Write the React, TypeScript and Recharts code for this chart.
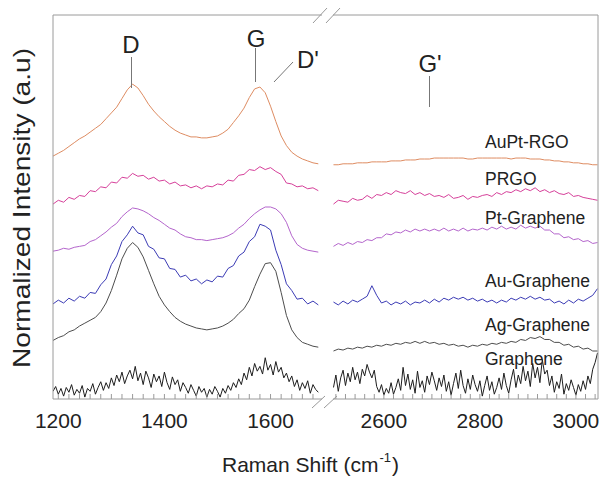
import { LineChart, Line, XAxis, YAxis } from 'recharts';

// Raman spectra, broken shift axis: 1190-1697 and 2494-3046 cm-1
const grid = (start: number, step: number, n: number) => Array.from({ length: n }, (_, i) => start + i * step);

const LEFT_SHIFT = grid(1190, 10, 51);
const RIGHT_SHIFT = grid(2495, 10, 56);
const GRAPHENE_LEFT_SHIFT = grid(1190, 5, 101);
const GRAPHENE_RIGHT_SHIFT = grid(2495, 5, 111);

const LEFT_TICKS = grid(1200, 20, 25);
const RIGHT_TICKS = grid(2500, 20, 28);

const AUPT_RGO_L = [
  2.53, 2.56, 2.59, 2.63, 2.67, 2.71, 2.74, 2.78, 2.82, 2.86,
  2.92, 2.98, 3.04, 3.13, 3.22, 3.28, 3.24, 3.16, 3.07, 3.0,
  2.94, 2.89, 2.84, 2.8, 2.77, 2.75, 2.73, 2.73, 2.72, 2.72,
  2.73, 2.74, 2.77, 2.81, 2.88, 2.95, 3.03, 3.14, 3.23, 3.25,
  3.19, 3.05, 2.89, 2.74, 2.64, 2.57, 2.53, 2.5, 2.48, 2.46,
  2.45,
];
const AUPT_RGO_R = [
  2.44, 2.44, 2.45, 2.45, 2.45, 2.46, 2.46, 2.46, 2.47, 2.47,
  2.47, 2.47, 2.48, 2.48, 2.48, 2.49, 2.49, 2.49, 2.5, 2.5,
  2.5, 2.51, 2.51, 2.51, 2.51, 2.51, 2.51, 2.51, 2.5, 2.5,
  2.51, 2.51, 2.51, 2.51, 2.51, 2.51, 2.51, 2.5, 2.51, 2.51,
  2.51, 2.5, 2.5, 2.5, 2.49, 2.49, 2.48, 2.48, 2.47, 2.47,
  2.46, 2.46, 2.45, 2.45, 2.44, 2.44,
];

const PRGO_L = [
  2.03, 2.07, 2.05, 2.1, 2.08, 2.12, 2.11, 2.17, 2.16, 2.21,
  2.2, 2.26, 2.25, 2.31, 2.3, 2.35, 2.32, 2.33, 2.29, 2.31,
  2.27, 2.28, 2.24, 2.26, 2.22, 2.23, 2.2, 2.22, 2.19, 2.22,
  2.21, 2.24, 2.23, 2.28, 2.27, 2.33, 2.34, 2.39, 2.38, 2.42,
  2.39, 2.41, 2.37, 2.34, 2.25, 2.24, 2.21, 2.22, 2.19, 2.2,
  2.17,
];
const PRGO_R = [
  2.03, 2.07, 2.06, 2.05, 2.09, 2.07, 2.08, 2.12, 2.09, 2.13,
  2.12, 2.15, 2.13, 2.17, 2.15, 2.14, 2.17, 2.13, 2.15, 2.12,
  2.14, 2.11, 2.12, 2.1, 2.13, 2.09, 2.1, 2.12, 2.08, 2.11,
  2.1, 2.12, 2.13, 2.11, 2.15, 2.13, 2.16, 2.15, 2.18, 2.16,
  2.19, 2.17, 2.2, 2.16, 2.18, 2.15, 2.17, 2.14, 2.13, 2.15,
  2.11, 2.12, 2.1, 2.09, 2.08, 2.07,
];

const PT_GRAPHENE_L = [
  1.54, 1.55, 1.57, 1.56, 1.58, 1.59, 1.6, 1.64, 1.66, 1.7,
  1.74, 1.79, 1.83, 1.9, 1.95, 1.99, 1.98, 1.96, 1.93, 1.89,
  1.86, 1.82, 1.78, 1.76, 1.72, 1.69, 1.68, 1.66, 1.66, 1.65,
  1.66, 1.67, 1.68, 1.7, 1.73, 1.78, 1.82, 1.88, 1.93, 1.97,
  2.0, 2.0, 1.98, 1.93, 1.84, 1.7, 1.61, 1.57, 1.55, 1.54,
  1.53,
];
const PT_GRAPHENE_R = [
  1.59, 1.62, 1.6, 1.63, 1.61, 1.64, 1.63, 1.66, 1.65, 1.68,
  1.68, 1.72, 1.71, 1.74, 1.73, 1.76, 1.74, 1.77, 1.75, 1.77,
  1.75, 1.77, 1.75, 1.78, 1.75, 1.77, 1.75, 1.78, 1.75, 1.77,
  1.76, 1.78, 1.76, 1.79, 1.77, 1.8, 1.77, 1.79, 1.77, 1.81,
  1.78, 1.8, 1.78, 1.8, 1.76, 1.76, 1.72, 1.72, 1.68, 1.69,
  1.66, 1.67, 1.64, 1.65, 1.62, 1.63,
];

const AU_GRAPHENE_L = [
  0.99, 1.03, 1.0, 1.05, 1.02, 1.07, 1.05, 1.11, 1.1, 1.19,
  1.25, 1.4, 1.49, 1.64, 1.71, 1.8, 1.73, 1.71, 1.59, 1.56,
  1.47, 1.46, 1.36, 1.35, 1.27, 1.29, 1.23, 1.25, 1.2, 1.24,
  1.22, 1.28, 1.27, 1.36, 1.39, 1.49, 1.53, 1.64, 1.69, 1.82,
  1.8, 1.76, 1.55, 1.4, 1.2, 1.13, 1.04, 1.05, 0.99, 1.02,
  0.98,
];
const AU_GRAPHENE_R = [
  1.01, 0.98, 1.02, 0.99, 1.03, 1.01, 1.04, 1.07, 1.18, 1.08,
  1.0, 1.02, 0.98, 1.01, 0.99, 1.02, 0.98, 1.01, 1.0, 1.03,
  1.0, 1.04, 1.01, 1.05, 1.03, 1.06, 1.04, 1.06, 1.03, 1.05,
  1.02, 1.04, 1.01, 1.03, 1.0, 1.03, 1.01, 1.05, 1.03, 1.06,
  1.04, 1.07, 1.04, 1.06, 1.03, 1.04, 1.0, 1.02, 0.99, 1.03,
  1.0, 1.04, 1.02, 1.05, 1.08, 1.15,
];

const AG_GRAPHENE_L = [
  0.61, 0.64, 0.66, 0.7, 0.72, 0.76, 0.79, 0.82, 0.85, 0.91,
  1.0, 1.13, 1.29, 1.46, 1.57, 1.63, 1.58, 1.48, 1.34, 1.2,
  1.07, 0.98, 0.91, 0.85, 0.81, 0.78, 0.76, 0.74, 0.73, 0.72,
  0.73, 0.74, 0.76, 0.79, 0.83, 0.89, 0.94, 1.03, 1.17, 1.3,
  1.41, 1.42, 1.33, 1.11, 0.87, 0.72, 0.64, 0.59, 0.57, 0.55,
  0.54,
];
const AG_GRAPHENE_R = [
  0.5, 0.52, 0.51, 0.53, 0.52, 0.54, 0.53, 0.55, 0.54, 0.56,
  0.55, 0.57, 0.56, 0.58, 0.57, 0.59, 0.58, 0.6, 0.58, 0.6,
  0.58, 0.59, 0.57, 0.58, 0.56, 0.57, 0.55, 0.56, 0.54, 0.56,
  0.55, 0.57, 0.56, 0.58, 0.57, 0.59, 0.58, 0.6, 0.59, 0.62,
  0.61, 0.64, 0.63, 0.65, 0.62, 0.62, 0.59, 0.59, 0.56, 0.57,
  0.54, 0.55, 0.52, 0.53, 0.5, 0.5,
];

// bare graphene is sampled twice as densely (it is the noisiest trace)
const GRAPHENE_L = [
  0.08, 0.13, 0.05, 0.11, 0.03, 0.12, 0.07, 0.15, 0.04, 0.1,
  0.06, 0.14, 0.02, 0.11, 0.08, 0.16, 0.05, 0.12, 0.18, 0.09,
  0.17, 0.11, 0.22, 0.14, 0.25, 0.18, 0.28, 0.16, 0.24, 0.3,
  0.21, 0.34, 0.19, 0.27, 0.15, 0.29, 0.22, 0.12, 0.26, 0.18,
  0.24, 0.13, 0.28, 0.17, 0.1, 0.23, 0.15, 0.2, 0.08, 0.17,
  0.12, 0.06, 0.15, 0.09, 0.03, 0.13, 0.07, 0.11, 0.02, 0.1,
  0.05, 0.13, 0.08, 0.02, 0.11, 0.06, 0.14, 0.09, 0.17, 0.12,
  0.21, 0.15, 0.27, 0.2, 0.33, 0.24, 0.37, 0.29, 0.34, 0.26,
  0.43, 0.3, 0.36, 0.25, 0.39, 0.28, 0.33, 0.22, 0.27, 0.18,
  0.24, 0.13, 0.2, 0.09, 0.17, 0.11, 0.19, 0.06, 0.15, 0.1,
  0.07,
];
const GRAPHENE_R = [
  0.12, 0.25, 0.08, 0.22, 0.3, 0.14, 0.27, 0.18, 0.33, 0.2,
  0.28, 0.16, 0.31, 0.24, 0.36, 0.28, 0.22, 0.3, 0.13, 0.07,
  0.15, 0.04, 0.11, 0.06, 0.17, 0.05, 0.12, 0.21, 0.09, 0.33,
  0.14, 0.26, 0.1, 0.2, 0.06, 0.29, 0.12, 0.19, 0.07, 0.24,
  0.15, 0.28, 0.19, 0.09, 0.22, 0.13, 0.25, 0.08, 0.18, 0.04,
  0.16, 0.27, 0.11, 0.3, 0.14, 0.06, 0.21, 0.1, 0.25, 0.15,
  0.08, 0.19, 0.03, 0.14, 0.24, 0.09, 0.18, 0.05, 0.12, 0.22,
  0.1, 0.27, 0.14, 0.06, 0.2, 0.31, 0.12, 0.25, 0.16, 0.34,
  0.19, 0.29, 0.13, 0.37, 0.22, 0.33, 0.17, 0.41, 0.26, 0.3,
  0.14, 0.24, 0.07, 0.18, 0.11, 0.26, 0.05, 0.16, 0.09, 0.2,
  0.12, 0.04, 0.15, 0.08, 0.19, 0.1, 0.24, 0.16, 0.31, 0.38,
  0.48,
];

const SERIES = [
  { key: 'auptRgo', name: 'AuPt-RGO', color: '#de8c62' },
  { key: 'prgo', name: 'PRGO', color: '#d6409a' },
  { key: 'ptGraphene', name: 'Pt-Graphene', color: '#b465cc' },
  { key: 'auGraphene', name: 'Au-Graphene', color: '#3b3bb5' },
  { key: 'agGraphene', name: 'Ag-Graphene', color: '#4d4d4d' },
];
const GRAPHENE_COLOR = '#1e1e1e';

const leftRows = LEFT_SHIFT.map((shift, i) => ({
  shift,
  auptRgo: AUPT_RGO_L[i],
  prgo: PRGO_L[i],
  ptGraphene: PT_GRAPHENE_L[i],
  auGraphene: AU_GRAPHENE_L[i],
  agGraphene: AG_GRAPHENE_L[i],
}));
const rightRows = RIGHT_SHIFT.map((shift, i) => ({
  shift,
  auptRgo: AUPT_RGO_R[i],
  prgo: PRGO_R[i],
  ptGraphene: PT_GRAPHENE_R[i],
  auGraphene: AU_GRAPHENE_R[i],
  agGraphene: AG_GRAPHENE_R[i],
}));
const grapheneLeft = GRAPHENE_LEFT_SHIFT.map((shift, i) => ({ shift, graphene: GRAPHENE_L[i] }));
const grapheneRight = GRAPHENE_RIGHT_SHIFT.map((shift, i) => ({ shift, graphene: GRAPHENE_R[i] }));

const FRAME = '#9a9a9a';
const INK = '#222';
const fmt = (v: number) => (v % 200 === 0 ? String(v) : '');

function Panel({ rows, graphene, domain, ticks, side }: any) {
  const isLeft = side === 'left';
  return (
    <LineChart
      width={isLeft ? 322 : 281}
      height={479}
      data={rows}
      margin={isLeft ? { top: 14, right: 0, bottom: 79, left: 52 } : { top: 14, right: 4, bottom: 79, left: 11 }}
    >
      <XAxis
        xAxisId="b"
        dataKey="shift"
        type="number"
        domain={domain}
        allowDataOverflow
        ticks={ticks}
        interval={0}
        tickFormatter={fmt}
        height={1}
        tickSize={-5}
        tickMargin={19}
        stroke={FRAME}
        tick={{ fill: INK, fontSize: 21 }}
      />
      <XAxis
        xAxisId="t"
        orientation="top"
        dataKey="shift"
        type="number"
        domain={domain}
        allowDataOverflow
        height={1}
        tick={false}
        tickLine={false}
        stroke={FRAME}
      />
      <YAxis
        type="number"
        domain={[0, 4]}
        ticks={[1, 2, 3]}
        orientation={isLeft ? 'left' : 'right'}
        width={1}
        tick={false}
        tickSize={-8}
        stroke={FRAME}
      />
      {SERIES.map(s => (
        <Line
          key={s.key}
          xAxisId="b"
          dataKey={s.key}
          stroke={s.color}
          strokeWidth={1}
          dot={false}
          type="linear"
          isAnimationActive={false}
        />
      ))}
      <Line
        xAxisId="b"
        data={graphene}
        dataKey="graphene"
        stroke={GRAPHENE_COLOR}
        strokeWidth={1}
        dot={false}
        type="linear"
        isAnimationActive={false}
      />
    </LineChart>
  );
}

const LABELS = [
  { text: 'AuPt-RGO', y: 148 },
  { text: 'PRGO', y: 185 },
  { text: 'Pt-Graphene', y: 224 },
  { text: 'Au-Graphene', y: 287 },
  { text: 'Ag-Graphene', y: 331 },
  { text: 'Graphene', y: 365 },
];

export default function App() {
  return (
    <div
      style={{
        position: 'absolute',
        left: 0,
        top: 0,
        width: 603,
        height: 479,
        background: '#fff',
        fontFamily: 'Arial, "Liberation Sans", sans-serif',
      }}
    >
      <div style={{ position: 'absolute', left: 0, top: 0 }}>
        <Panel rows={leftRows} graphene={grapheneLeft} domain={[1190, 1697]} ticks={LEFT_TICKS} side="left" />
      </div>
      <div style={{ position: 'absolute', left: 322, top: 0 }}>
        <Panel rows={rightRows} graphene={grapheneRight} domain={[2494, 3046]} ticks={RIGHT_TICKS} side="right" />
      </div>
      <svg width={603} height={479} style={{ position: 'absolute', left: 0, top: 0, pointerEvents: 'none' }}>
        {/* axis break marks */}
        <g stroke={FRAME} strokeWidth={1}>
          <line x1={313} y1={23} x2={327} y2={8} />
          <line x1={326} y1={23} x2={340} y2={8} />
          <line x1={312} y1={408} x2={325} y2={396} />
          <line x1={324} y1={408} x2={337} y2={396} />
        </g>
        {/* band markers */}
        <g stroke="#777" strokeWidth={1}>
          <line x1={131.5} y1={57} x2={131.5} y2={88} />
          <line x1={255.5} y1={48} x2={255.5} y2={82} />
          <line x1={274} y1={82} x2={293} y2={62} />
          <line x1={429.5} y1={76} x2={429.5} y2={107} />
        </g>
        <g fill={INK} fontSize={24}>
          <text x={131} y={53} textAnchor="middle">D</text>
          <text x={256} y={47} textAnchor="middle">G</text>
          <text x={297} y={68}>D'</text>
          <text x={430} y={72} textAnchor="middle">G'</text>
        </g>
        <g fill={INK} fontSize={17.5}>
          {LABELS.map(l => (
            <text key={l.text} x={485} y={l.y}>{l.text}</text>
          ))}
        </g>
        <text x={222} y={472} fill={INK} fontSize={21}>
          Raman Shift (cm
          <tspan dx={1} dy={-10} fontSize={13}>-1</tspan>
          <tspan dx={1} dy={10}>)</tspan>
        </text>
        <text
          transform="translate(30,208) rotate(-90)"
          textAnchor="middle"
          fill={INK}
          fontSize={24}
          textLength={320}
          lengthAdjust="spacingAndGlyphs"
        >
          Normalized Intensity (a.u)
        </text>
      </svg>
    </div>
  );
}
